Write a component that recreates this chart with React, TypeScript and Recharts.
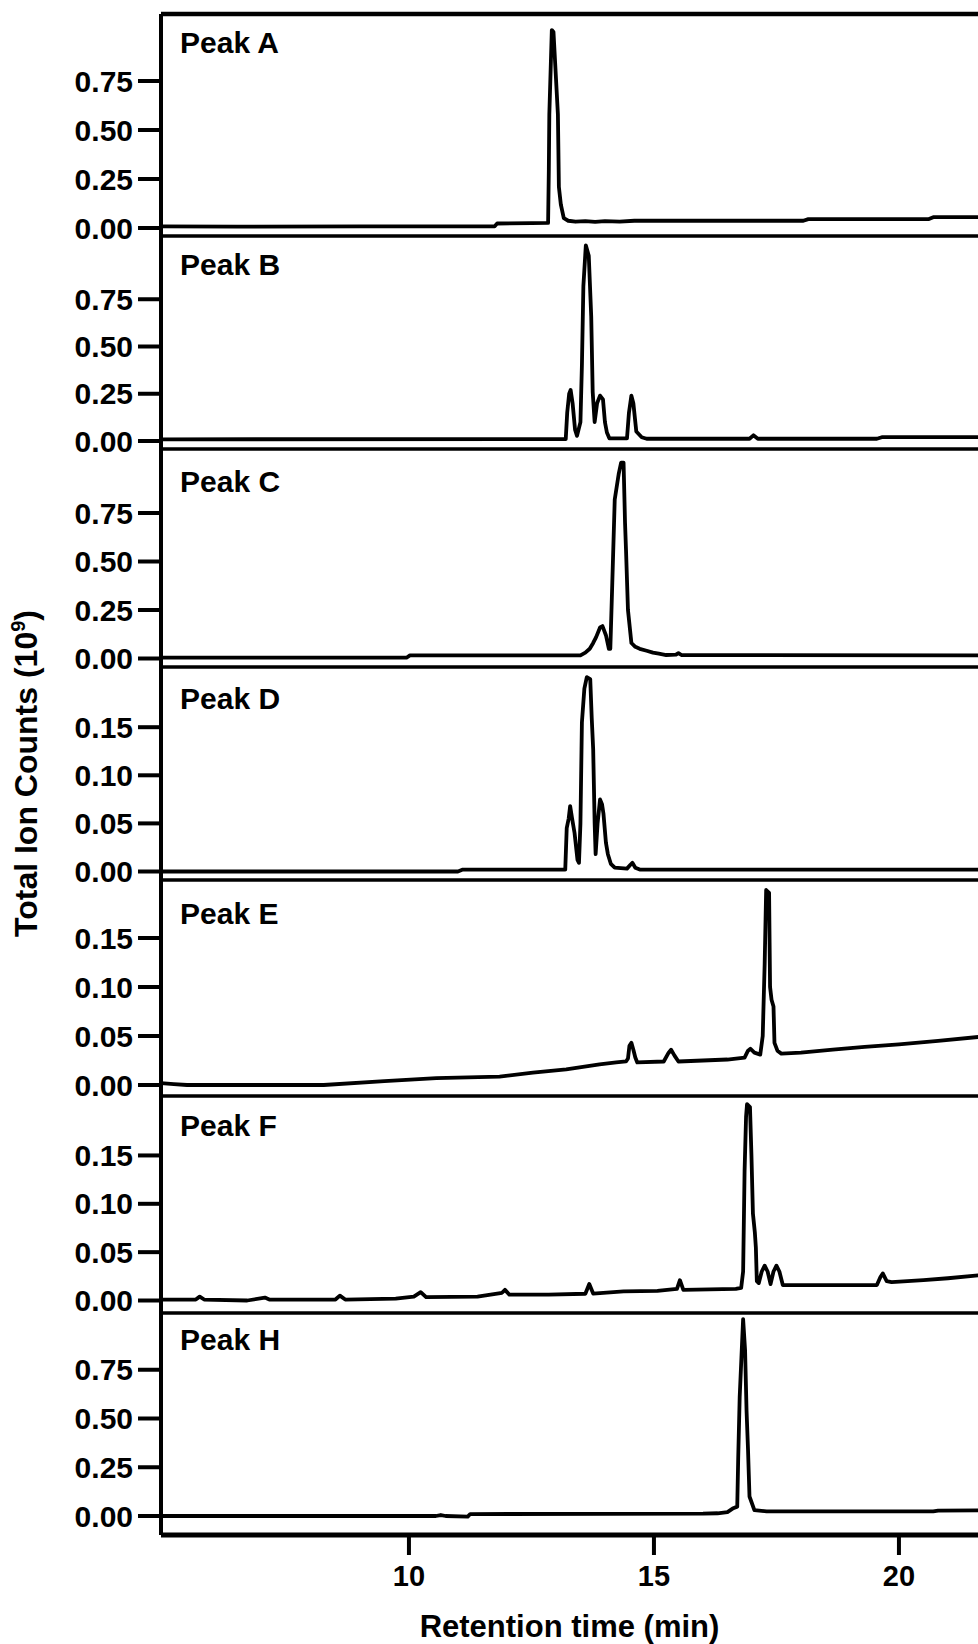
import { Line, LineChart, ReferenceLine, XAxis, YAxis } from "recharts";

const FONT = '"Liberation Sans", Arial, Helvetica, sans-serif';

const xTicks = [10, 15, 20];
const bigTicks = [0, 0.25, 0.5, 0.75];
const smallTicks = [0, 0.05, 0.1, 0.15];

// [retention time (min), total ion counts (10^9)]
const peakA: [number, number][] = [
  [4.94, 0.008], [6.5, 0.007], [9.0, 0.008], [11.75, 0.009], [11.8, 0.023], [12.5, 0.025],
  [12.84, 0.026], [12.855, 0.3], [12.865, 0.58], [12.916, 1.01], [12.95, 1.0], [13.04, 0.58],
  [13.05, 0.4], [13.06, 0.21], [13.1, 0.12], [13.16, 0.05], [13.25, 0.037], [13.4, 0.032],
  [13.6, 0.035], [13.8, 0.031], [14.0, 0.035], [14.3, 0.033], [14.6, 0.037], [18.05, 0.037],
  [18.15, 0.045], [20.6, 0.045], [20.7, 0.055], [21.62, 0.056],
];

const peakB: [number, number][] = [
  [4.94, 0.009], [13.2, 0.01], [13.23, 0.15], [13.27, 0.25], [13.3, 0.27], [13.34, 0.2],
  [13.39, 0.06], [13.43, 0.027], [13.5, 0.1], [13.53, 0.4], [13.56, 0.82], [13.61, 1.035],
  [13.67, 0.98], [13.72, 0.66], [13.75, 0.26], [13.79, 0.1], [13.84, 0.2], [13.9, 0.24],
  [13.96, 0.22], [14.0, 0.1], [14.04, 0.045], [14.09, 0.014], [14.45, 0.014], [14.49, 0.15],
  [14.54, 0.24], [14.58, 0.2], [14.64, 0.05], [14.75, 0.02], [14.85, 0.012], [16.95, 0.012],
  [17.03, 0.03], [17.12, 0.012], [19.55, 0.012], [19.65, 0.02], [21.62, 0.02],
];

const peakC: [number, number][] = [
  [4.94, 0.004], [9.95, 0.004], [10.02, 0.016], [13.5, 0.016], [13.6, 0.03], [13.69, 0.05],
  [13.76, 0.08], [13.82, 0.11], [13.9, 0.16], [13.95, 0.167], [14.02, 0.12], [14.08, 0.05],
  [14.11, 0.05], [14.15, 0.39], [14.2, 0.82], [14.28, 0.95], [14.33, 1.01], [14.38, 1.01],
  [14.41, 0.7], [14.43, 0.56], [14.47, 0.25], [14.54, 0.08], [14.62, 0.06], [14.71, 0.05],
  [14.85, 0.04], [14.98, 0.03], [15.1, 0.025], [15.25, 0.018], [15.45, 0.02], [15.5, 0.028],
  [15.56, 0.018], [21.62, 0.016],
];

const peakD: [number, number][] = [
  [4.94, 0.0], [11.0, 0.0], [11.1, 0.002], [13.19, 0.002], [13.22, 0.045], [13.26, 0.055],
  [13.29, 0.068], [13.33, 0.055], [13.38, 0.04], [13.44, 0.012], [13.47, 0.009], [13.5, 0.05],
  [13.53, 0.155], [13.58, 0.19], [13.63, 0.202], [13.7, 0.2], [13.73, 0.16], [13.76, 0.127],
  [13.79, 0.05], [13.81, 0.018], [13.85, 0.05], [13.9, 0.075], [13.94, 0.07], [13.97, 0.06],
  [14.02, 0.03], [14.06, 0.018], [14.12, 0.008], [14.2, 0.004], [14.45, 0.003], [14.52, 0.007],
  [14.56, 0.009], [14.62, 0.004], [14.71, 0.002], [21.62, 0.002],
];

const peakE: [number, number][] = [
  [4.94, 0.002], [5.2, 0.001], [5.47, 0.0], [8.26, 0.0], [9.5, 0.004], [10.56, 0.007],
  [11.85, 0.0085], [12.53, 0.0126], [13.21, 0.016], [13.89, 0.021], [14.23, 0.023], [14.43, 0.024],
  [14.47, 0.027], [14.5, 0.04], [14.54, 0.043], [14.58, 0.036], [14.62, 0.028], [14.66, 0.023],
  [15.2, 0.024], [15.3, 0.033], [15.35, 0.036], [15.42, 0.03], [15.5, 0.024], [16.0, 0.025],
  [16.5, 0.026], [16.85, 0.028], [16.92, 0.035], [16.97, 0.037], [17.05, 0.033], [17.17, 0.031],
  [17.22, 0.05], [17.26, 0.124], [17.29, 0.199], [17.35, 0.196], [17.37, 0.1], [17.4, 0.087],
  [17.44, 0.08], [17.46, 0.043], [17.52, 0.035], [17.6, 0.032], [18.0, 0.033], [18.65, 0.036],
  [19.3, 0.039], [20.0, 0.0415], [20.8, 0.045], [21.62, 0.049],
];

const peakF: [number, number][] = [
  [4.94, 0.001], [5.65, 0.001], [5.73, 0.004], [5.82, 0.001], [6.7, 0.0], [7.06, 0.003],
  [7.15, 0.001], [8.5, 0.001], [8.59, 0.005], [8.7, 0.001], [9.73, 0.002], [10.1, 0.004],
  [10.24, 0.0086], [10.35, 0.0034], [11.4, 0.004], [11.9, 0.008], [11.96, 0.011], [12.05, 0.006],
  [12.85, 0.006], [13.6, 0.007], [13.68, 0.017], [13.76, 0.0072], [14.38, 0.0095], [15.07, 0.01],
  [15.47, 0.012], [15.53, 0.021], [15.6, 0.011], [16.67, 0.012], [16.78, 0.013], [16.82, 0.03],
  [16.85, 0.134], [16.88, 0.19], [16.9, 0.203], [16.96, 0.2], [16.99, 0.15], [17.02, 0.09],
  [17.06, 0.07], [17.08, 0.055], [17.1, 0.02], [17.14, 0.018], [17.2, 0.03], [17.26, 0.036],
  [17.32, 0.03], [17.38, 0.017], [17.44, 0.03], [17.5, 0.036], [17.56, 0.03], [17.63, 0.016],
  [19.55, 0.016], [19.62, 0.024], [19.67, 0.028], [19.75, 0.02], [19.85, 0.019], [20.5, 0.021],
  [21.0, 0.023], [21.62, 0.026],
];

const peakH: [number, number][] = [
  [4.94, 0.0], [10.55, 0.0], [10.65, 0.005], [10.75, 0.0], [11.2, -0.003], [11.25, 0.01],
  [16.0, 0.012], [16.3, 0.014], [16.5, 0.02], [16.62, 0.04], [16.7, 0.048], [16.72, 0.3],
  [16.75, 0.61], [16.82, 1.01], [16.86, 0.85], [16.89, 0.54], [16.92, 0.34], [16.95, 0.1],
  [17.05, 0.03], [17.3, 0.024], [20.7, 0.024], [20.8, 0.028], [21.62, 0.029],
];

const WIDTH = 978;
const HEIGHT = 1644;
const PLOT_LEFT = 161;
const PLOT_BOTTOM = 1535;
const PX_PER_MIN = 49;
const X_MIN = 4.94;
const X_MAX = X_MIN + (WIDTH - PLOT_LEFT) / PX_PER_MIN;

// zeroY / pxPerUnit / topY / labelY are page pixels
const panels = [
  { id: "A", name: "Peak A", data: peakA, ticks: bigTicks, zeroY: 228, pxPerUnit: 196, topY: 14, labelY: 53 },
  { id: "B", name: "Peak B", data: peakB, ticks: bigTicks, zeroY: 441, pxPerUnit: 189, topY: 236, labelY: 275 },
  { id: "C", name: "Peak C", data: peakC, ticks: bigTicks, zeroY: 658.5, pxPerUnit: 194, topY: 449, labelY: 492 },
  { id: "D", name: "Peak D", data: peakD, ticks: smallTicks, zeroY: 871, pxPerUnit: 962, topY: 666.5, labelY: 708 },
  { id: "E", name: "Peak E", data: peakE, ticks: smallTicks, zeroY: 1085, pxPerUnit: 980, topY: 880, labelY: 924 },
  { id: "F", name: "Peak F", data: peakF, ticks: smallTicks, zeroY: 1300, pxPerUnit: 967, topY: 1095.5, labelY: 1135 },
  { id: "H", name: "Peak H", data: peakH, ticks: bigTicks, zeroY: 1516, pxPerUnit: 195, topY: 1313, labelY: 1350 },
];

function PanelTitle({ caption, baseY }: { caption: string; baseY: number }) {
  return (
    <text x={180} y={baseY} fontSize={30} fontWeight={700} fontFamily={FONT} fill="#000">
      {caption}
    </text>
  );
}

function YTitle({ centerY }: { centerY: number }) {
  return (
    <text
      x={37}
      y={centerY}
      transform={`rotate(-90 37 ${centerY})`}
      textAnchor="middle"
      fontSize={32}
      fontWeight={700}
      fontFamily={FONT}
      fill="#000"
    >
      Total Ion Counts (10
      <tspan fontSize={20} dy={-12}>9</tspan>
      <tspan dy={12}>)</tspan>
    </text>
  );
}

export default function App() {
  return (
    <div style={{ position: "absolute", left: 0, top: 0, width: WIDTH, height: HEIGHT, background: "#fff", overflow: "hidden" }}>
      <style>{".recharts-surface{overflow:visible}"}</style>
      {panels.map((p, i) => {
        const isLast = i === panels.length - 1;
        const bottomY = isLast ? PLOT_BOTTOM : panels[i + 1].topY;
        const axisH = isLast ? HEIGHT - PLOT_BOTTOM : 0;
        const h = Math.round(bottomY - p.topY) + axisH;
        const lo = (p.zeroY - (p.topY + h - axisH)) / p.pxPerUnit;
        const hi = (p.zeroY - p.topY) / p.pxPerUnit;
        const rows = p.data.map(([t, v]) => ({ t, v }));
        return (
          <div key={p.id} style={{ position: "absolute", left: 0, top: p.topY, width: WIDTH, height: h }}>
            <LineChart width={WIDTH} height={h} data={rows} margin={{ top: 0, right: 0, bottom: 0, left: 0 }}>
              <XAxis
                type="number"
                dataKey="t"
                domain={[X_MIN, X_MAX]}
                ticks={xTicks}
                allowDataOverflow
                hide={!isLast}
                height={axisH}
                axisLine={{ stroke: "#000", strokeWidth: 5 }}
                tickLine={{ stroke: "#000", strokeWidth: 4 }}
                tickSize={20}
                tickMargin={10}
                tick={{ fill: "#000", fontSize: 29, fontWeight: 700, fontFamily: FONT }}
                label={
                  isLast
                    ? {
                        value: "Retention time (min)",
                        position: "insideBottom",
                        offset: 7,
                        fill: "#000",
                        fontSize: 31,
                        fontWeight: 700,
                        fontFamily: FONT,
                      }
                    : undefined
                }
              />
              <YAxis
                type="number"
                domain={[lo, hi]}
                allowDataOverflow
                ticks={p.ticks}
                interval={0}
                width={PLOT_LEFT}
                axisLine={{ stroke: "#000", strokeWidth: 4 }}
                tickLine={{ stroke: "#000", strokeWidth: 4 }}
                tickSize={23}
                tickMargin={5}
                tickFormatter={(v: number) => v.toFixed(2)}
                tick={{ fill: "#000", fontSize: 30, fontWeight: 700, fontFamily: FONT }}
                label={p.id === "D" ? <YTitle centerY={773 - p.topY} /> : undefined}
              />
              <ReferenceLine
                y={hi}
                stroke="#000"
                strokeWidth={i === 0 ? 4.5 : 3.5}
                ifOverflow="visible"
                label={<PanelTitle caption={p.name} baseY={p.labelY - p.topY} />}
              />
              <Line
                dataKey="v"
                type="linear"
                stroke="#000"
                strokeWidth={3.8}
                strokeLinejoin="round"
                dot={false}
                activeDot={false}
                isAnimationActive={false}
              />
            </LineChart>
          </div>
        );
      })}
    </div>
  );
}
